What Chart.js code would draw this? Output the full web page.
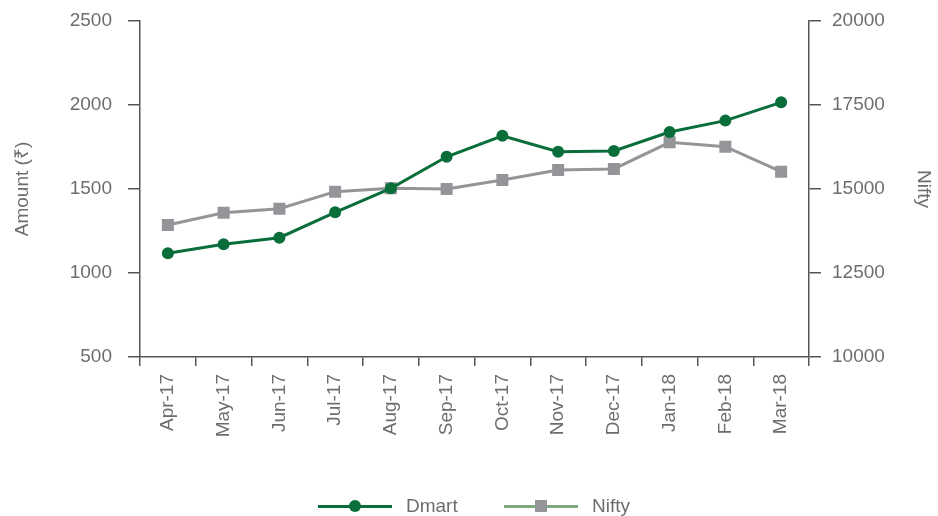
<!DOCTYPE html>
<html>
<head>
<meta charset="utf-8">
<script src="https://cdn.jsdelivr.net/npm/chart.js@4/dist/chart.umd.min.js"></script>
<style>
  body { margin:0; background:#fff; overflow:hidden; }
  .wrap { position:relative; width:938px; height:516px; }
  .legend { position:absolute; left:0; top:494px; width:938px; height:24px; font-family:"Liberation Sans", Arial, sans-serif; font-size:19px; color:#6d6d6d; }
  .item { position:absolute; top:0; height:24px; line-height:24px; }
  .item .ln { position:absolute; top:11px; left:0; width:74px; height:3px; }
  .item .mk { position:absolute; }
  .item .tx { position:absolute; left:88px; top:0; white-space:nowrap; }
</style>
</head>
<body>
<div class="wrap">
  <canvas id="myLinechart" width="938" height="516"></canvas>
  <div class="legend" id="legend"></div>
</div>
<script>
var months=["Apr-17","May-17","Jun-17","Jul-17","Aug-17","Sep-17","Oct-17","Nov-17","Dec-17","Jan-18","Feb-18","Mar-18"];
var dmart=[1117,1171,1210,1361,1504,1692,1817,1722,1726,1839,1907,2016];
var nifty=[13929,14295,14414,14920,15021,15000,15268,15566,15596,16390,16259,15515];
var amount_ticks=[500,1000,1500,2000,2500];
var nifty_ticks=[10000,12500,15000,17500,20000];

var green="#0a6e3b";
var grey="#939598";
var text_c="#6d6d6d";
var axis_c="#555555";
var font={family:"'Liberation Sans', Arial, sans-serif",size:19};

function plain(v){ return String(v); }
function fit_y(w){
  return function(s){ s.width=w; s.paddingTop=0; s.paddingBottom=0; };
}

let line=document.getElementById("myLinechart").getContext('2d');
let Dmart_Line=new Chart(line,{
  type:"line",
  data:{
    labels:months,
    datasets:[{
      label:"Dmart",
      data:dmart,
      yAxisID:"y",
      borderColor:green,
      backgroundColor:green,
      borderWidth:3,
      pointStyle:"circle",
      pointRadius:6,
      pointBorderWidth:0,
      tension:0,
      order:1
    },{
      label:"Nifty",
      data:nifty,
      yAxisID:"y1",
      borderColor:grey,
      backgroundColor:grey,
      borderWidth:3,
      pointStyle:"rect",
      pointRadius:8.5,
      pointBorderWidth:0,
      tension:0,
      order:2
    }]
  },
  options:{
    responsive:false,
    animation:false,
    layout:{padding:{top:21,bottom:0,left:0,right:0}},
    plugins:{
      legend:{display:false},
      tooltip:{enabled:false}
    },
    scales:{
      x:{
        offset:true,
        grid:{offset:true,drawOnChartArea:false,drawTicks:true,tickLength:9,color:axis_c,lineWidth:1.5},
        border:{display:true,color:axis_c,width:1.5},
        ticks:{color:text_c,font:font,minRotation:90,maxRotation:90,padding:8,autoSkip:false},
        afterFit:function(s){ s.height=159; s.paddingLeft=0; s.paddingRight=0; }
      },
      y:{
        position:"left",
        min:500,max:2500,
        afterBuildTicks:function(s){ s.ticks=amount_ticks.map(function(v){return {value:v};}); },
        grid:{drawOnChartArea:false,drawTicks:true,tickLength:12,color:axis_c,lineWidth:1.5},
        border:{display:true,color:axis_c,width:1.5},
        ticks:{color:text_c,font:font,padding:16,callback:plain},
        title:{display:true,text:"Amount (₹)",color:text_c,font:font,padding:{top:11,bottom:0}},
        afterFit:fit_y(140)
      },
      y1:{
        position:"right",
        min:10000,max:20000,
        afterBuildTicks:function(s){ s.ticks=nifty_ticks.map(function(v){return {value:v};}); },
        grid:{drawOnChartArea:false,drawTicks:true,tickLength:12,color:axis_c,lineWidth:1.5},
        border:{display:true,color:axis_c,width:1.5},
        ticks:{color:text_c,font:font,padding:11,callback:plain},
        title:{display:true,text:"Nifty",color:text_c,font:font,padding:{top:3,bottom:0}},
        afterFit:fit_y(129)
      }
    }
  }
});

// legend drawn as html so the Nifty line keeps its own colour
var legend_items=[
  {text:"Dmart",left:318,line:green,marker:green,round:true},
  {text:"Nifty",left:504,line:"#7fa87f",marker:grey,round:false}
];
var lg=document.getElementById("legend");
legend_items.forEach(function(it){
  var d=document.createElement("div");
  d.className="item";
  d.style.left=it.left+"px";
  var mk=it.round
    ? '<div class="mk" style="left:31px;top:6px;width:12px;height:12px;border-radius:6px;background:'+it.marker+'"></div>'
    : '<div class="mk" style="left:31px;top:6px;width:12px;height:12px;background:'+it.marker+'"></div>';
  d.innerHTML='<div class="ln" style="background:'+it.line+'"></div>'+mk+'<div class="tx">'+it.text+'</div>';
  lg.appendChild(d);
});
</script>
</body>
</html>
